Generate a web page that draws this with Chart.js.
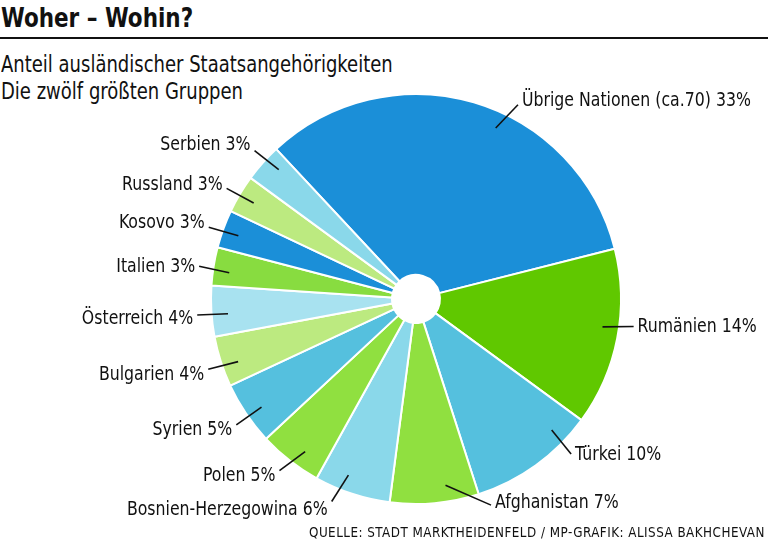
<!DOCTYPE html>
<html lang="de">
<head>
<meta charset="utf-8">
<title>Woher – Wohin?</title>
<script src="https://cdn.jsdelivr.net/npm/chart.js@4/dist/chart.umd.min.js"></script>
<style>
  html, body { margin: 0; padding: 0; background: #fff; }
  body {
    width: 768px; height: 541px; position: relative; overflow: hidden;
    font-family: "DejaVu Sans Condensed", "DejaVu Sans", sans-serif;
    color: #111;
  }
  .title {
    position: absolute; left: 1px; top: 3px; white-space: nowrap;
    font-size: 26px; font-weight: bold; line-height: 30px;
    transform: scaleX(0.92); transform-origin: left top;
  }
  .rule { position: absolute; left: 0; top: 37px; width: 768px; height: 2px; background: #111; }
  .sub {
    position: absolute; left: 1px; top: 51px; white-space: nowrap;
    font-size: 23px; line-height: 27px;
    transform: scaleX(0.87); transform-origin: left top;
  }
  .source {
    position: absolute; right: 3px; top: 524px; white-space: nowrap;
    font-size: 14px; letter-spacing: 0.5px; line-height: 16px;
    transform: scaleX(0.95); transform-origin: right top;
  }
  #wrap { position: absolute; left: 0; top: 0; width: 768px; height: 541px; }
</style>
</head>
<body>
<div class="title">Woher – Wohin?</div>
<div class="rule"></div>
<div class="sub">Anteil ausländischer Staatsangehörigkeiten<br>Die zwölf größten Gruppen</div>
<div id="wrap"><canvas id="chart" role="img" aria-label="Tortendiagramm: Anteil ausländischer Staatsangehörigkeiten"></canvas></div>
<div class="source">QUELLE: STADT MARKTHEIDENFELD / MP-GRAFIK: ALISSA BAKHCHEVAN</div>

<script>
const countries = [
  'Übrige Nationen (ca.70)', 'Rumänien', 'Türkei', 'Afghanistan',
  'Bosnien-Herzegowina', 'Polen', 'Syrien', 'Bulgarien',
  'Österreich', 'Italien', 'Kosovo', 'Russland', 'Serbien',
];
const shares = [33, 14, 10, 7, 6, 5, 5, 4, 4, 3, 3, 3, 3];
const colors = [
  '#1b8fd8', '#60c800', '#55c0de', '#90e040',
  '#8ad8ea', '#90e040', '#55c0de', '#bcea80',
  '#a8e2f0', '#88dc40', '#1b8fd8', '#bcea80', '#8ad8ea',
];

/* Leader lines: degrees away from the slice middle, for the inner and outer
   end of each line, plus a small vertical nudge of the text. */
const leadStart = [8.6, -2.5, -10.2, -3.8, 2.8, -2, -1, -1.6, -1.1, -1.2, -0.4, -0.2, 1.7];
const leadEnd = [11.3, -3.8, -9.2, -14.8, 4.4, 0.5, -1, -0.9, -0.8, -0.6, -0.9, -0.5, 1.0];
const textDy = [-4, 0, 1, -2, 8, 5, 5, 5, 4, 1, -4, -4, -6];

const leaderLabels = {
  id: 'leaderLabels',
  afterDatasetsDraw(chart) {
    const { ctx } = chart;
    const arcs = chart.getDatasetMeta(0).data;
    ctx.save();
    ctx.strokeStyle = '#111';
    ctx.fillStyle = '#111';
    ctx.lineWidth = 1.6;
    ctx.font = '20px "DejaVu Sans Condensed", "DejaVu Sans", sans-serif';
    ctx.textBaseline = 'middle';
    arcs.forEach((arc, i) => {
      const { x, y, startAngle, endAngle, outerRadius } = arc.getProps(
        ['x', 'y', 'startAngle', 'endAngle', 'outerRadius'], true);
      const mid = (startAngle + endAngle) / 2;
      const a1 = mid + leadStart[i] * Math.PI / 180;
      const a2 = mid + leadEnd[i] * Math.PI / 180;
      const r1 = outerRadius * 0.92;
      const r2 = outerRadius * 1.07;
      const x1 = x + Math.cos(a1) * r1, y1 = y + Math.sin(a1) * r1;
      const x2 = x + Math.cos(a2) * r2, y2 = y + Math.sin(a2) * r2;
      ctx.beginPath();
      ctx.moveTo(x1, y1);
      ctx.lineTo(x2, y2);
      ctx.stroke();
      const right = x2 >= x;
      ctx.textAlign = right ? 'left' : 'right';
      const label = countries[i] + ' ' + shares[i] + '%';
      // condensed face, squeezed a little more to match the print font
      ctx.save();
      ctx.translate(x2 + (right ? 4 : -4), y2 + textDy[i]);
      ctx.scale(0.875, 1);
      ctx.fillText(label, 0, 0);
      ctx.restore();
    });
    ctx.restore();
  },
};

new Chart(document.getElementById('chart'), {
  type: 'doughnut',
  data: {
    labels: countries,
    datasets: [{
      data: shares,
      backgroundColor: colors,
      borderColor: '#ffffff',
      borderWidth: 2,
      hoverOffset: 0,
    }],
  },
  options: {
    responsive: true,
    maintainAspectRatio: false,
    animation: false,
    rotation: -43,
    cutout: '11.7%',
    layout: { padding: { left: 210, right: 146, top: 93, bottom: 36 } },
    plugins: {
      legend: { display: false },
      tooltip: { enabled: false },
    },
  },
  plugins: [leaderLabels],
});
</script>
</body>
</html>
